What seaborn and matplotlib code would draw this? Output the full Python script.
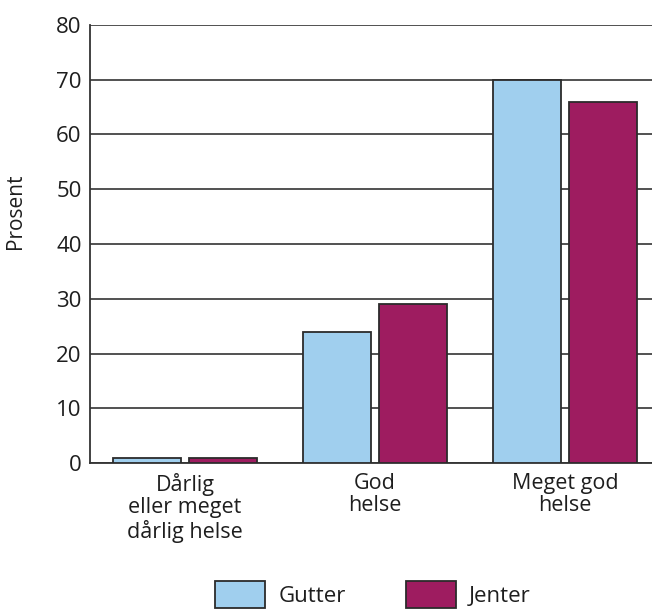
import matplotlib
matplotlib.use("Agg")
import matplotlib.pyplot as plt
from matplotlib.patches import Patch
import seaborn as sns
import pandas as pd

categories = ["Dårlig\neller meget\ndårlig helse", "God\nhelse", "Meget god\nhelse"]
groups = ["Gutter", "Jenter"]
gutter = [1, 24, 70]
jenter = [1, 29, 66]
y_ticks = [0, 10, 20, 30, 40, 50, 60, 70, 80]

colors = {"Gutter": "#a0cfee", "Jenter": "#9e1c60"}
edge = "#2b2b2b"
text_color = "#1e1e1e"

df = pd.DataFrame({
    "kategori": categories * 2,
    "kjonn": ["Gutter"] * 3 + ["Jenter"] * 3,
    "prosent": gutter + jenter,
})

sns.set_theme(style="white")
plt.rcParams["font.family"] = ["Open Sans", "DejaVu Sans"]

fig = plt.figure(figsize=(6.52, 6.09), dpi=100)
ax = fig.add_axes([0.138, 0.2397, 0.862, 0.7193])

sns.barplot(data=df, x="kategori", y="prosent", hue="kjonn", order=categories,
            hue_order=groups, palette=colors, saturation=1, width=0.8, gap=0.1,
            edgecolor=edge, linewidth=1.3, legend=False, ax=ax, zorder=3)

ax.set_ylim(0, 80)
ax.set_xlim(-0.5, 2.458)
ax.set_yticks(y_ticks)
ax.yaxis.grid(True, color="#333333", linewidth=1.2, zorder=0)
ax.set_axisbelow(True)
for s in ["top", "right"]:
    ax.spines[s].set_visible(False)
for s in ["left", "bottom"]:
    ax.spines[s].set_color("#333333")
    ax.spines[s].set_linewidth(1.3)

ax.tick_params(axis="y", length=0, pad=6, labelsize=16, colors=text_color)
ax.tick_params(axis="x", length=0, pad=7, labelsize=15.5, colors=text_color)
ax.set_xticks([0.5, 1.5], minor=True)
ax.tick_params(axis="x", which="minor", direction="in", length=8, width=1.3, color="#333333")
for lbl in ax.get_xticklabels():
    lbl.set_linespacing(1.1)

ax.set_xlabel("")
ax.set_ylabel("Prosent", fontsize=15, color=text_color, labelpad=20)
ax.yaxis.set_label_coords(-0.113, 0.575)

handles = [Patch(facecolor=colors[g], edgecolor=edge, linewidth=1.3, label=g) for g in groups]
fig.legend(handles=handles, loc="upper center", bbox_to_anchor=(0.572, 0.060),
           ncol=2, frameon=False, fontsize=16, handlelength=2.25, handleheight=1.45,
           handletextpad=0.6, columnspacing=2.7, borderaxespad=0, labelcolor=text_color)

fig.savefig("out.png", dpi=100)
